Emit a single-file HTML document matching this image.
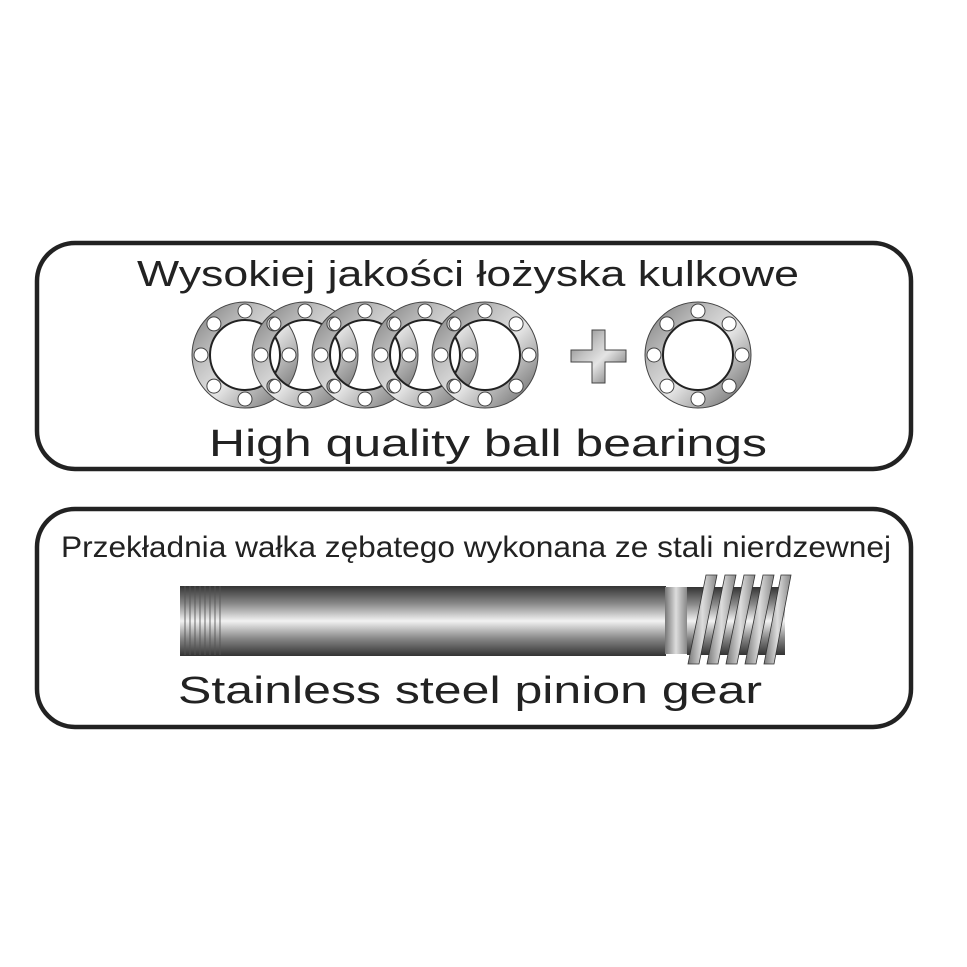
<!DOCTYPE html>
<html><head><meta charset="utf-8"><style>
html,body{margin:0;padding:0;background:#fff;}
svg{display:block}
text{font-family:"Liberation Sans",sans-serif;fill:#222}
</style></head><body>
<svg width="967" height="967" viewBox="0 0 967 967" xmlns="http://www.w3.org/2000/svg">
<defs>
<linearGradient id="rg" x1="0" y1="0" x2="1" y2="1">
<stop offset="0" stop-color="#777"/><stop offset="0.35" stop-color="#c4c4c4"/><stop offset="0.55" stop-color="#e4e4e4"/><stop offset="0.8" stop-color="#999"/><stop offset="1" stop-color="#5a5a5a"/>
</linearGradient>
<linearGradient id="sg" x1="0" y1="0" x2="0" y2="1">
<stop offset="0" stop-color="#333"/><stop offset="0.25" stop-color="#888"/><stop offset="0.5" stop-color="#f2f2f2"/><stop offset="0.75" stop-color="#888"/><stop offset="1" stop-color="#333"/>
</linearGradient>
<linearGradient id="tg" x1="0" y1="0" x2="1" y2="0">
<stop offset="0" stop-color="#777"/><stop offset="0.5" stop-color="#ddd"/><stop offset="1" stop-color="#888"/>
</linearGradient>
<g id="ring">
<path fill-rule="evenodd" fill="url(#rg)" stroke="#444" stroke-width="1" d="M-53,0a53,53 0 1,0 106,0a53,53 0 1,0 -106,0Z M-35,0a35,35 0 1,0 70,0a35,35 0 1,0 -70,0Z
M-7,-44a7,7 0 1,0 14,0a7,7 0 1,0 -14,0Z
M-7,44a7,7 0 1,0 14,0a7,7 0 1,0 -14,0Z
M-51,0a7,7 0 1,0 14,0a7,7 0 1,0 -14,0Z
M37,0a7,7 0 1,0 14,0a7,7 0 1,0 -14,0Z
M24.1,-31.1a7,7 0 1,0 14,0a7,7 0 1,0 -14,0Z
M-38.1,-31.1a7,7 0 1,0 14,0a7,7 0 1,0 -14,0Z
M24.1,31.1a7,7 0 1,0 14,0a7,7 0 1,0 -14,0Z
M-38.1,31.1a7,7 0 1,0 14,0a7,7 0 1,0 -14,0Z"/>
<circle r="35" fill="none" stroke="#222" stroke-width="2"/>
</g>
</defs>
<rect x="37" y="243" width="874" height="226" rx="38" fill="none" stroke="#222" stroke-width="4.5"/>
<rect x="37" y="509" width="874" height="218" rx="38" fill="none" stroke="#222" stroke-width="4.5"/>
<text x="468" y="286" font-size="36" text-anchor="middle" textLength="662" lengthAdjust="spacingAndGlyphs">Wysokiej jakości łożyska kulkowe</text>
<use href="#ring" x="245" y="355"/>
<use href="#ring" x="305" y="355"/>
<use href="#ring" x="365" y="355"/>
<use href="#ring" x="425" y="355"/>
<use href="#ring" x="485" y="355"/>
<use href="#ring" x="698" y="355"/>
<path d="M592,330h13v20h21v12h-21v21h-13v-21h-21v-12h21z" fill="url(#rg)" stroke="#444" stroke-width="1"/>
<text x="488" y="456" font-size="38" text-anchor="middle" textLength="558" lengthAdjust="spacingAndGlyphs">High quality ball bearings</text>
<text x="476" y="557" font-size="30" text-anchor="middle" textLength="830" lengthAdjust="spacingAndGlyphs">Przekładnia wałka zębatego wykonana ze stali nierdzewnej</text>
<rect x="180" y="586" width="486" height="70" fill="url(#sg)"/>
<g stroke="#555" stroke-width="1.2" opacity="0.7">
<line x1="185" y1="586" x2="185" y2="655"/><line x1="190" y1="586" x2="190" y2="655"/><line x1="195" y1="586" x2="195" y2="655"/><line x1="200" y1="586" x2="200" y2="655"/><line x1="205" y1="586" x2="205" y2="655"/><line x1="210" y1="586" x2="210" y2="655"/><line x1="215" y1="586" x2="215" y2="655"/><line x1="220" y1="586" x2="220" y2="655"/>
</g>
<rect x="665" y="587" width="22" height="67" fill="url(#tg)"/>
<rect x="687" y="587" width="98" height="68" fill="url(#sg)"/>
<g fill="url(#tg)" stroke="#333" stroke-width="0.8">
<path d="M688,664l18,-89h11l-18,89z"/>
<path d="M707,664l18,-89h11l-18,89z"/>
<path d="M726,664l18,-89h11l-18,89z"/>
<path d="M745,664l18,-89h11l-18,89z"/>
<path d="M764,664l17,-89h10l-17,89z"/>
</g>
<text x="470" y="703" font-size="38" text-anchor="middle" textLength="584" lengthAdjust="spacingAndGlyphs">Stainless steel pinion gear</text>
</svg>
</body></html>
